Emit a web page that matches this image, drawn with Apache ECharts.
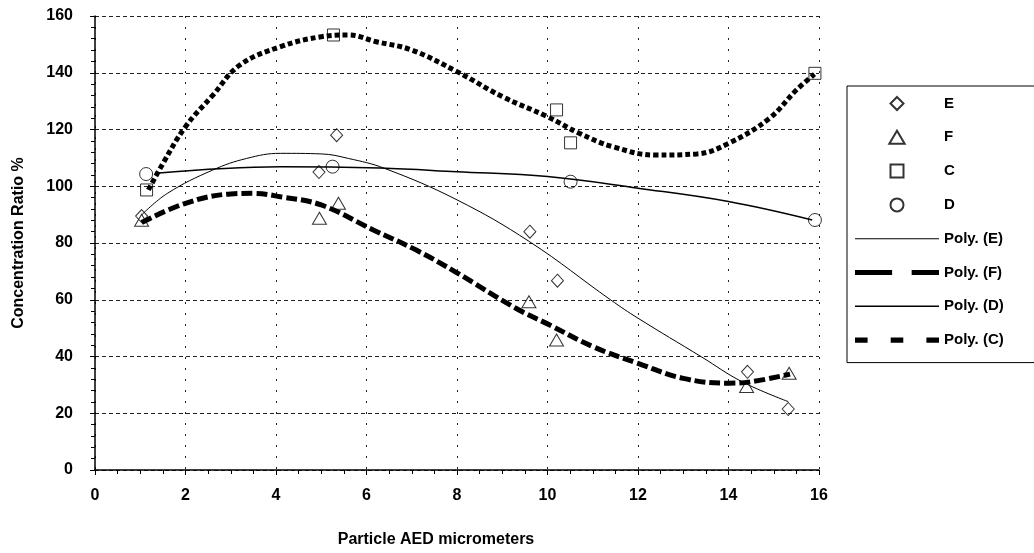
<!DOCTYPE html>
<html>
<head>
<meta charset="utf-8">
<script src="https://cdn.jsdelivr.net/npm/echarts@6/dist/echarts.min.js"></script>
<style>
html,body{margin:0;padding:0;background:#fff;}
#one{width:1034px;height:553px;}
</style>
</head>
<body>
<div id="one"></div>
<script>
// measured points [x, y]
var pointsE = [[1.03,89.5],[4.95,105],[5.34,118],[9.61,84],[10.22,66.7],[14.42,34.6],[15.32,21.5]];
var pointsF = [[1.03,88],[4.96,88.7],[5.38,94],[9.59,59.3],[10.2,45.8],[14.4,29.4],[15.34,34.1]];
var pointsC = [[1.14,98.7],[5.27,153.3],[10.2,126.9],[10.51,115.3],[15.91,139.8]];
var pointsD = [[1.13,104.3],[5.25,106.9],[10.51,101.6],[15.91,88.1]];

// trendlines
var polyE = [[1.03,89.9],[1.6,97.5],[2.6,105.7],[3.35,109.8],[4.1,111.6],[5.0,111.4],[5.6,109.8],[6.4,106.3],[8.0,95.2],[9.6,80.5],[11.4,59.9],[12.0,53.5],[13.4,39.9],[14.3,31.1],[15.32,24.1]];
var polyF = [[1.03,87.2],[2.0,94],[3.0,97.3],[3.5,97.5],[4.1,96.3],[5.0,93.4],[6.15,84.6],[7.1,77.5],[8.0,69.5],[9.3,57],[10.05,51.1],[11.0,43.5],[12.0,37.6],[13.0,32.3],[14.0,30.6],[14.5,31.1],[15.36,33.8]];
var polyD = [[1.35,104.6],[4.1,106.9],[6.3,106.4],[8.0,105.1],[10.0,103.4],[12.0,99.3],[14.0,94.6],[15.85,88.1]];
var polyC = [[1.18,98.7],[1.5,108],[2.0,121],[2.6,132],[3.2,142.7],[4.1,149.2],[5.0,152.7],[5.6,153.3],[6.2,151],[7.0,148],[8.0,140.4],[9.0,131.6],[10.0,124.5],[10.7,118.7],[11.45,113.9],[12.4,111],[13.3,111.4],[14.0,115.1],[14.9,123.9],[15.5,133.9],[15.9,139.5]];

var markerNames = ['E','F','C','D'];
var trendNames = ['Poly. (E)','Poly. (F)','Poly. (D)','Poly. (C)'];

var font = 'Liberation Sans, Arial, sans-serif';
var chart = echarts.init(document.getElementById('one'));

var hollow = {color:'rgba(255,255,255,0)', borderColor:'#000', borderWidth:1};
var solidIcon = {color:'#000', borderWidth:0};

// legend sample icons (paths keep their aspect)
var legendData = [
    {name:markerNames[0], icon:'path://M6,0L12,6L6,12L0,6Z'},
    {name:markerNames[1], icon:'path://M6.5,0L13,11L0,11Z'},
    {name:markerNames[2], icon:'path://M0,0L11,0L11,11L0,11Z'},
    {name:markerNames[3], icon:'path://M0,6A6,6 0 1,0 12,6A6,6 0 1,0 0,6Z'},
    {name:trendNames[0], icon:'path://M0,0h86v1h-86z', itemStyle:solidIcon},
    {name:trendNames[1], icon:'path://M0,0h38v5h-38zM58,0h28v5h-28z', itemStyle:solidIcon},
    {name:trendNames[2], icon:'path://M0,0h86v1.5h-86z', itemStyle:solidIcon},
    {name:trendNames[3], icon:'path://M0,0h12v5h-12zM34,0h12v5h-12zM68,0h12v5h-12z', itemStyle:solidIcon}
];

var option = {
    animation: false,
    backgroundColor: '#fff',
    grid: {left:95, right:215, top:16, bottom:83},
    legend: {
        orient: 'vertical',
        left: 847, top: 86,
        padding: [10, 60, 15, 8],
        borderColor: '#000', borderWidth: 1,
        itemWidth: 84, itemHeight: 13, itemGap: 18.8,
        symbolKeepAspect: true,
        data: legendData,
        textStyle: {fontFamily: font, fontWeight:'bold', fontSize:15, color:'#000'}
    },
    xAxis: {
        type:'value', min:0, max:16, interval:2,
        name:'Particle AED micrometers', nameLocation:'middle', nameGap:62,
        nameTextStyle:{fontFamily:font, fontWeight:'bold', fontSize:16, color:'#000', padding:[0,42,0,0]},
        axisLine:{lineStyle:{color:'#000', width:1.5}},
        axisTick:{length:5, lineStyle:{color:'#000'}},
        minorTick:{show:true, splitNumber:4, length:4, lineStyle:{color:'#000'}},
        axisLabel:{margin:18, fontFamily:font, fontWeight:'bold', fontSize:16, color:'#000'},
        splitLine:{show:true, lineStyle:{color:'#222', type:[2,9], width:1}}
    },
    yAxis: {
        type:'value', min:0, max:160, interval:20,
        name:'Concentration Ratio %', nameLocation:'middle', nameGap:68,
        nameTextStyle:{fontFamily:font, fontWeight:'bold', fontSize:16, color:'#000'},
        axisLine:{show:true, lineStyle:{color:'#000', width:1.5}},
        axisTick:{show:true, length:5, lineStyle:{color:'#000'}},
        minorTick:{show:true, splitNumber:5, length:4, lineStyle:{color:'#000'}},
        axisLabel:{margin:22, fontFamily:font, fontWeight:'bold', fontSize:16, color:'#000'},
        splitLine:{show:true, lineStyle:{color:'#222', type:[4,3], width:1}}
    },
    series: [
        {name:'Poly. (E)', type:'line', data:polyE, smooth:0.4, showSymbol:false,
         lineStyle:{color:'#000', width:1}, itemStyle:{color:'#000'}, z:2},
        {name:'Poly. (F)', type:'line', data:polyF, smooth:0.4, showSymbol:false,
         lineStyle:{color:'#000', width:5, type:[11,4]}, itemStyle:{color:'#000'}, z:2},
        {name:'Poly. (D)', type:'line', data:polyD, smooth:0.4, showSymbol:false,
         lineStyle:{color:'#000', width:1.5}, itemStyle:{color:'#000'}, z:2},
        {name:'Poly. (C)', type:'line', data:polyC, smooth:0.4, showSymbol:false,
         lineStyle:{color:'#000', width:5, type:[5,3]}, itemStyle:{color:'#000'}, z:2},
        {name:'E', type:'scatter', data:pointsE, symbol:'diamond', symbolSize:[12,13], itemStyle:hollow, z:3},
        {name:'F', type:'scatter', data:pointsF, symbol:'triangle', symbolSize:[14,12], itemStyle:hollow, z:3},
        {name:'C', type:'scatter', data:pointsC, symbol:'rect', symbolSize:12, itemStyle:hollow, z:3},
        {name:'D', type:'scatter', data:pointsD, symbol:'circle', symbolSize:13, itemStyle:hollow, z:3}
    ]
};
chart.setOption(option);
</script>
</body>
</html>
